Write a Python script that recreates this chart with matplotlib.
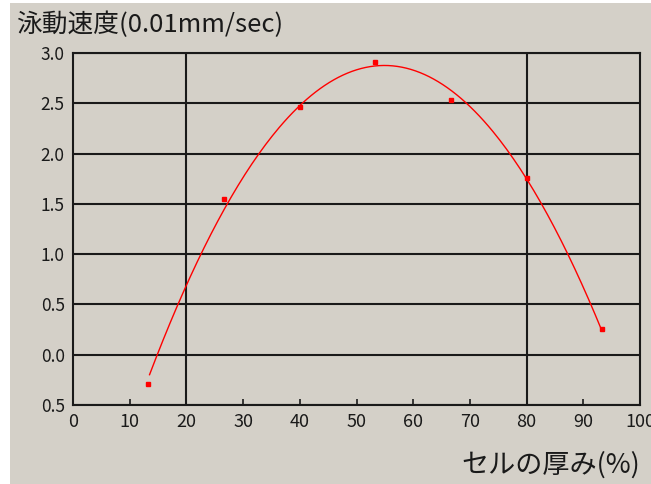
import numpy as np
import matplotlib
matplotlib.use("Agg")
import matplotlib.pyplot as plt
from matplotlib.patches import Rectangle

plt.rcParams['font.family'] = ['Noto Sans CJK JP', 'DejaVu Sans']

# data
thickness = [13.3, 26.7, 40.0, 53.3, 66.7, 80.0, 93.3]
speed = [-0.29, 1.55, 2.46, 2.91, 2.53, 1.76, 0.26]
yticks = [3.0, 2.5, 2.0, 1.5, 1.0, 0.5, 0.0, -0.5]
ytick_labels = ["3.0", "2.5", "2.0", "1.5", "1.0", "0.5", "0.0", "0.5"]
xticks = list(range(0, 101, 10))

bg = "#d4d0c8"
fig = plt.figure(figsize=(6.51, 4.84), dpi=100)
fig.patch.set_facecolor("white")
fig.patches.append(Rectangle((10 / 651, 0), 1, 1 - 3 / 484, transform=fig.transFigure,
                             facecolor=bg, edgecolor="none", zorder=-10))

ax = fig.add_axes([73 / 651, 1 - 405 / 484, (640 - 73) / 651, (405 - 53) / 484])
ax.set_facecolor(bg)
ax.set_xlim(0, 100)
ax.set_ylim(-0.5, 3.0)

# quadratic trend curve through the points
coef = np.polyfit(thickness, speed, 2)
xs = np.linspace(thickness[0] + 0.2, thickness[-1], 200)
ax.plot(xs, np.polyval(coef, xs), color="red", lw=1.0, zorder=3)
ax.plot(thickness, speed, "s", color="red", ms=3.5, zorder=4)

for y in yticks:
    ax.axhline(y, color="#1a1a1a", lw=1.5, zorder=1)
for x in [20, 80]:
    ax.axvline(x, color="#1a1a1a", lw=1.5, zorder=1)
for s in ax.spines.values():
    s.set_color("#1a1a1a")
    s.set_linewidth(1.5)

ax.set_xticks(xticks)
ax.set_xticklabels([str(t) for t in xticks], fontsize=13, color="#1a1a1a")
ax.set_yticks(yticks)
ax.set_yticklabels(ytick_labels, fontsize=12.5, color="#1a1a1a")
ax.tick_params(axis="x", direction="in", length=4, width=1.2, pad=6, color="#1a1a1a")
ax.tick_params(axis="y", length=0, pad=6)

fig.text(16 / 651, 1 - 25 / 484, "泳動速度(0.01mm/sec)", fontsize=18.5,
         ha="left", va="center", color="#1a1a1a")
fig.text(640 / 651, 1 - 465 / 484, "セルの厚み(%)", fontsize=19.5,
         ha="right", va="center", color="#1a1a1a")

fig.savefig("out.png", dpi=100, facecolor=fig.get_facecolor())
